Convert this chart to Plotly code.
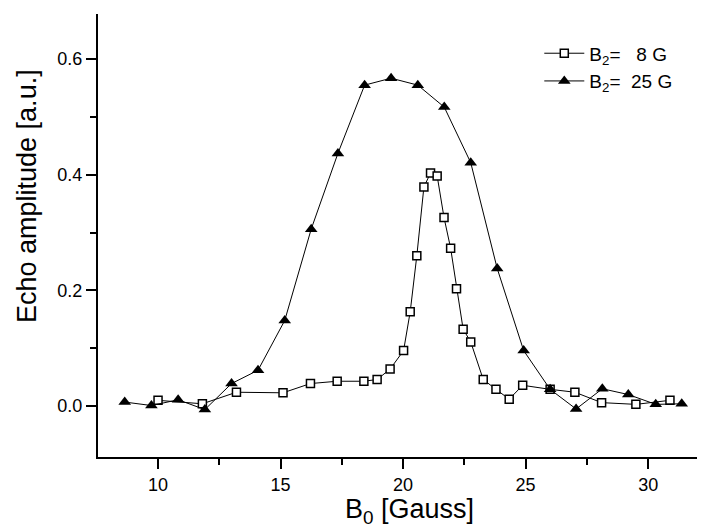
import plotly.graph_objects as go

# B2 = 8 G (open squares)
b0_8g = [10.0, 11.81, 13.2, 15.1, 16.22, 17.31, 18.40, 18.94, 19.47, 20.02,
         20.29, 20.56, 20.85, 21.12, 21.39, 21.67, 21.94, 22.18, 22.45, 22.76,
         23.27, 23.79, 24.33, 24.88, 26.0, 27.01, 28.10, 29.5, 30.89]
amp_8g = [0.010, 0.004, 0.024, 0.023, 0.039, 0.043, 0.043, 0.046, 0.064, 0.096,
          0.163, 0.260, 0.379, 0.403, 0.398, 0.326, 0.273, 0.203, 0.133, 0.111,
          0.046, 0.029, 0.012, 0.036, 0.029, 0.024, 0.006, 0.003, 0.010]

# B2 = 25 G (filled triangles)
b0_25g = [8.64, 9.73, 10.82, 11.91, 13.0, 14.08, 15.17, 16.25, 17.34, 18.43,
          19.51, 20.6, 21.68, 22.76, 23.84, 24.92, 26.0, 27.06, 28.13, 29.19,
          30.31, 31.37]
amp_25g = [0.007, 0.001, 0.011, -0.006, 0.039, 0.062, 0.148, 0.306, 0.437, 0.555,
           0.567, 0.555, 0.517, 0.421, 0.238, 0.096, 0.029, -0.005, 0.030, 0.020,
           0.003, 0.004]

font = "Liberation Sans, Arial, sans-serif"
nb = "\u00a0"

fig = go.Figure()
fig.add_trace(go.Scatter(
    x=b0_8g, y=amp_8g, mode="lines+markers",
    name="B<sub>2</sub>=" + nb * 3 + "8" + nb + "G",
    line=dict(color="black", width=1),
    marker=dict(symbol="square", size=8, color="white",
                line=dict(color="black", width=1.5)),
))
fig.add_trace(go.Scatter(
    x=b0_25g, y=amp_25g, mode="lines+markers",
    name="B<sub>2</sub>=" + nb * 2 + "25" + nb + "G",
    line=dict(color="black", width=1),
    marker=dict(symbol="triangle-up", size=11, color="black",
                line=dict(color="black", width=0)),
))

axis_common = dict(
    showline=True, linecolor="black", linewidth=2, mirror=False,
    showgrid=False, zeroline=False,
    ticks="outside", ticklen=10, tickwidth=2, tickcolor="black",
    tickfont=dict(family=font, size=18, color="black"),
)

fig.update_xaxes(range=[7.55, 32.32], dtick=5, tick0=0,
                 minor=dict(ticks="outside", ticklen=6, tickwidth=2,
                            dtick=2.5, tick0=0, tickcolor="black"),
                 **axis_common)
fig.update_yaxes(range=[-0.088, 0.678], dtick=0.2, tick0=0, tickformat=".1f",
                 minor=dict(ticks="outside", ticklen=6, tickwidth=2,
                            dtick=0.1, tick0=0, tickcolor="black"),
                 **axis_common)

# page body adds an 8px offset, so the figure is 8px smaller than the window
fig.add_annotation(text="Echo amplitude [a.u.]", textangle=-90,
                   xref="paper", yref="paper", x=-0.146, y=0.59,
                   xanchor="left", yanchor="middle", showarrow=False,
                   font=dict(family=font, size=27, color="black"))
fig.add_annotation(text="B<sub>0</sub> [Gauss]",
                   xref="paper", yref="paper", x=0.513, y=-0.122,
                   xanchor="center", yanchor="middle", showarrow=False,
                   font=dict(family=font, size=27, color="black"))

fig.update_layout(
    width=697, height=518,
    margin=dict(l=90, r=0, t=6, b=69),
    paper_bgcolor="white", plot_bgcolor="white",
    showlegend=True,
    legend=dict(x=0.727, y=0.954, xanchor="left", yanchor="top",
                bgcolor="rgba(0,0,0,0)", itemwidth=40, tracegroupgap=4,
                font=dict(family=font, size=19, color="black")),
    font=dict(family=font, color="black"),
)

fig.write_html("out.html")
